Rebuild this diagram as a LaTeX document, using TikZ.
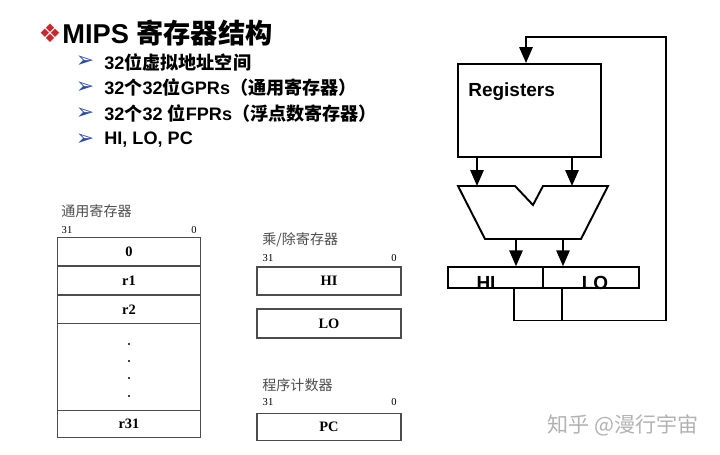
\documentclass[tikz,border=0pt]{standalone}
\usepackage{fontspec}
\setmainfont{Liberation Sans}
\newfontfamily\cjk{Noto Sans CJK SC}
\newfontfamily\rmf{Liberation Serif}
\newfontfamily\dingf{DejaVu Sans}
\usetikzlibrary{arrows.meta}
\definecolor{dingred}{RGB}{200,40,45}
\definecolor{tickblue}{RGB}{45,75,165}

\begin{document}
\begin{tikzpicture}[x=0.02cm,y=-0.02cm,
  head/.style={anchor=west,inner sep=0pt,font=\fontsize{15.5}{16}\selectfont\bfseries},
  item/.style={anchor=west,inner sep=0pt,font=\fontsize{10.3}{12}\selectfont\bfseries},
  tick/.style={inner sep=0pt,text=tickblue,font=\dingf\fontsize{12.5}{13}\selectfont},
  capt/.style={anchor=west,inner sep=0pt,text=black!70,font=\cjk\fontsize{8}{9}\selectfont},
  bit/.style={inner sep=0pt,font=\rmf\fontsize{6}{7}\selectfont},
  reg/.style={draw=black!70,line width=0.6pt,minimum width=2.87cm,minimum height=0.57cm,inner sep=0pt,font=\rmf\bfseries\fontsize{8.2}{9}\selectfont},
  blk/.style={draw,line width=1.1pt,inner sep=0pt},
  wire/.style={line width=1.1pt},
  arr/.style={wire,-{Triangle[length=9pt,width=7.5pt]}},
  big/.style={inner sep=0pt,font=\fontsize{10.8}{12}\selectfont\bfseries}]
\useasboundingbox (0,0) rectangle (720,454);
% title and bullet list
\node[inner sep=0pt,text=dingred,font=\dingf\fontsize{14.5}{15}\selectfont] (dia) at (50,33) {❖};
\node[head] (title) at (62,33) {MIPS {\cjk 寄存器结构}};
\node[tick] (t1) at (85,62) {➢};
\node[tick] (t2) at (85,88) {➢};
\node[tick] (t3) at (85,114) {➢};
\node[tick] (t4) at (85,140) {➢};
\node[item] (i1) at (104,62) {32{\cjk 位虚拟地址空间}};
\node[item] (i2) at (104,88) {32{\cjk 个}32{\cjk 位}GPRs{\cjk （通用寄存器）}};
\node[item] (i3) at (104,114) {32{\cjk 个}32 {\cjk 位}FPRs{\cjk （浮点数寄存器）}};
\node[item] (i4) at (104,140) {HI, LO, PC};
% general purpose registers
\node[capt] (gprcap) at (61,211) {通用寄存器};
\node[bit] (gpr31) at (67,230) {31};
\node[bit] (gpr0) at (194,230) {0};
\node[reg] (r0) at (129,251.7) {0};
\node[reg] (r1) at (129,280.5) {r1};
\node[reg] (r2) at (129,309.3) {r2};
\node[reg,minimum height=1.74cm] (rdots) at (129,367.2) {};
\node[reg,minimum height=0.53cm] (r31) at (129,423.8) {r31};
\foreach \y in {344,361,378,396}
  \fill (129,\y) circle (0.6pt);
% mul/div and pc
\node[capt] (mdcap) at (262,240) {乘/除寄存器};
\node[bit] (md31) at (268,258) {31};
\node[bit] (md0) at (394,258) {0};
\node[reg,minimum width=2.88cm,minimum height=0.56cm] (hireg) at (329,281) {HI};
\node[reg,minimum width=2.88cm,minimum height=0.58cm] (loreg) at (329,323.5) {LO};
\node[capt] (pccap) at (262,385) {程序计数器};
\node[bit] (pc31) at (268,402) {31};
\node[bit] (pc0) at (394,402) {0};
\node[reg,minimum width=2.88cm,minimum height=0.54cm] (pcreg) at (329,427) {PC};
% datapath
\node[blk,minimum width=2.86cm,minimum height=1.86cm] (regs) at (529.5,110.5) {};
\node[big,anchor=west] (regtxt) at (468,92) {Registers};
\draw[wire] (458,186) -- (515,186) -- (533,205) -- (543,186) -- (608,186)
  -- (581,239) -- (485,239) -- cycle;
\coordinate (aluL) at (477,186);
\coordinate (aluR) at (572,186);
\coordinate (aluoL) at (516,239);
\coordinate (aluoR) at (563,239);
\node[big,anchor=base] (hitxt) at (486,289) {HI};
\node[big,anchor=base] (lotxt) at (595,289) {LO};
\node[blk,minimum width=1.9cm,minimum height=0.41cm] (hi) at (495.5,277.5) {};
\node[blk,minimum width=1.92cm,minimum height=0.41cm] (lo) at (591,277.5) {};
\draw[arr] (regs.south -| aluL) -- (aluL);
\draw[arr] (regs.south -| aluR) -- (aluR);
\draw[arr] (aluoL) -- (hi.north -| aluoL);
\draw[arr] (aluoR) -- (lo.north -| aluoR);
\coordinate (loopR) at (666,320.5);
\coordinate (loopT) at (666,37);
\draw[arr] ([xshift=0.37cm]hi.south) |- (loopR) -- (loopT) -| ([xshift=-0.07cm]regs.north);
\draw[wire] ([xshift=-0.58cm]lo.south) |- (loopR);
% watermark
\node[anchor=west,inner sep=0pt,text=black!30,font=\cjk\fontsize{12}{13}\selectfont] (wm) at (547,425) {知乎 @漫行宇宙};
\end{tikzpicture}
\end{document}
